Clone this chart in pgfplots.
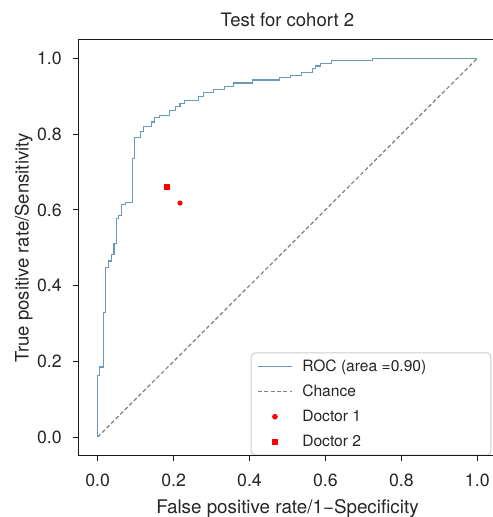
\documentclass[border=0pt]{standalone}
\usepackage{pgfplots}
\pgfplotsset{compat=1.18}
\usepackage{fontspec}
\setmainfont{TeX Gyre Heros}

\definecolor{roc}{RGB}{104,154,188}
\definecolor{txt}{RGB}{38,38,38}

\pgfplotsset{
    lineleg/.style={legend image code/.code={\draw[##1] (0pt,0pt) -- (25.7pt,0pt);}},
    markleg/.style={legend image code/.code={\draw[##1] plot coordinates {(12.85pt,0pt)};}},
}

\begin{document}
\begin{tikzpicture}
\begin{axis}[
    at={(0,0)}, anchor=south west,
    scale only axis,
    width=313.2pt, height=312.4pt,
    xmin=-0.05, xmax=1.05, ymin=-0.05, ymax=1.05,
    xtick={0,0.2,0.4,0.6,0.8,1.0},
    ytick={0,0.2,0.4,0.6,0.8,1.0},
    axis line style={draw=none},
    tick style={line width=0.75pt, black!90},
    tick align=outside, major tick length=4pt,
    xtick pos=bottom, ytick pos=left,
    /pgf/number format/assume math mode=true,
    /pgf/number format/fixed, /pgf/number format/fixed zerofill,
    /pgf/number format/precision=1,
    ticklabel style={font=\fontsize{13.3}{15}\selectfont, text=txt, inner sep=0pt},
    xticklabel style={anchor=north, yshift=-9pt},
    yticklabel style={anchor=east, xshift=-8.5pt},
    every axis title/.style={at={(axis description cs:0.5,1)}, anchor=base, yshift=9.6pt,
        font=\fontsize{13.9}{16}\selectfont, text=txt},
    every axis x label/.style={at={(axis description cs:0.5,0)}, anchor=base, yshift=-42.75pt,
        font=\fontsize{14.1}{16}\selectfont, text=txt},
    every axis y label/.style={at={(axis description cs:0,0.5)}, xshift=-37.5pt, rotate=90,
        anchor=base, font=\fontsize{13.9}{16}\selectfont, text=txt},
    title={Test for cohort 2},
    xlabel={False positive rate/1\textminus Specificity},
    ylabel={True positive rate/Sensitivity},
    legend cell align=left,
    legend style={
        at={(axis description cs:0.412,0.001)}, anchor=south west,
        draw=black!20, line width=0.75pt, rounded corners=3pt, fill=white,
        font=\fontsize{11.7}{14}\selectfont, text=txt,
        inner xsep=4.5pt, inner ysep=3pt, row sep=4.7pt, column sep=5.2pt,
    },
]
\addplot[roc, line width=0.8pt, lineleg]
coordinates {
(0,0) (0,0.162) (0.006,0.162) (0.006,0.185) (0.015,0.185) (0.015,0.328)
(0.021,0.328) (0.021,0.449) (0.028,0.449) (0.028,0.465) (0.036,0.465)
(0.036,0.482) (0.043,0.482) (0.043,0.511) (0.049,0.511) (0.049,0.577)
(0.056,0.577) (0.056,0.586) (0.063,0.586) (0.063,0.615) (0.074,0.615)
(0.074,0.620) (0.092,0.620) (0.092,0.736) (0.098,0.736) (0.098,0.790)
(0.113,0.790) (0.113,0.806) (0.120,0.806) (0.120,0.819) (0.142,0.819)
(0.142,0.832) (0.149,0.832) (0.149,0.843) (0.164,0.843) (0.164,0.850)
(0.190,0.850) (0.190,0.863) (0.206,0.863) (0.206,0.872) (0.217,0.872)
(0.217,0.881) (0.230,0.881) (0.230,0.890) (0.265,0.890) (0.265,0.900)
(0.278,0.900) (0.278,0.910) (0.306,0.910) (0.306,0.918) (0.335,0.918)
(0.335,0.927) (0.357,0.927) (0.357,0.935) (0.407,0.935) (0.407,0.943)
(0.478,0.943) (0.478,0.950) (0.507,0.950) (0.507,0.956) (0.537,0.956)
(0.537,0.963) (0.565,0.963) (0.565,0.974) (0.575,0.974) (0.575,0.980)
(0.587,0.980) (0.587,0.987) (0.615,0.987) (0.615,0.994) (0.723,0.994)
(0.723,1.000) (1.000,1.000)
};
\addlegendentry{\makebox[135pt][l]{ROC (area =0.90)}}
\addplot[black!50, line width=0.9pt, dash pattern=on 3pt off 1.8pt, lineleg]
coordinates {(0,0) (1,1)};
\addlegendentry{Chance}
\addplot[only marks, mark=*, red, mark size=1.7pt, markleg]
coordinates {(0.217,0.618)};
\addlegendentry{Doctor 1}
\addplot[only marks, mark=square*, red, mark size=1.75pt, markleg]
coordinates {(0.182,0.661)};
\addlegendentry{Doctor 2}
\end{axis}
% frame: top, left and bottom spines (the right one lies past the page edge)
\draw[line width=0.75pt, black!90]
    (current axis.north east) -- (current axis.north west)
    -- (current axis.south west) -- (current axis.south east);
\pgfresetboundingbox
\path[use as bounding box] (-59pt,-45.75pt) rectangle (310.7pt,342pt);
\end{tikzpicture}
\end{document}
